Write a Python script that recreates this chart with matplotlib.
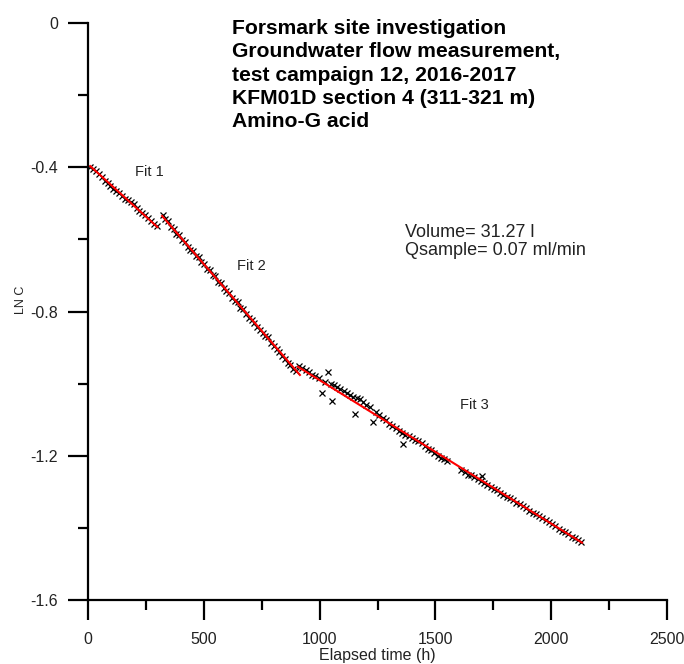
import matplotlib
matplotlib.use("Agg")
import matplotlib.pyplot as plt
from matplotlib.ticker import MultipleLocator

plt.rcParams['font.family'] = ['Liberation Sans', 'DejaVu Sans']
plt.rcParams['axes.unicode_minus'] = False

# measured ln C versus elapsed time (h)
t_fit1 = [10, 22, 35, 48, 60, 72, 85, 97, 110, 122, 135, 147, 160, 172, 185, 197,
          210, 222, 235, 247, 260, 272, 285, 297]
lnc_fit1 = [-0.400, -0.404, -0.411, -0.420, -0.428, -0.437, -0.444, -0.451, -0.460,
            -0.466, -0.472, -0.480, -0.488, -0.492, -0.495, -0.502, -0.512, -0.520,
            -0.527, -0.533, -0.541, -0.550, -0.557, -0.563]

t_fit2 = [322, 334, 346, 358, 370, 382, 394, 406, 418, 430, 442, 454, 466, 478, 490,
          502, 514, 526, 538, 550, 562, 574, 586, 598, 610, 622, 634, 646, 658, 670,
          682, 694, 706, 718, 730, 742, 754, 766, 778, 790, 802, 814, 826, 838, 850,
          862, 874, 886, 898]
lnc_fit2 = [-0.532, -0.543, -0.550, -0.566, -0.570, -0.585, -0.588, -0.603, -0.606,
            -0.621, -0.629, -0.631, -0.645, -0.650, -0.664, -0.668, -0.683, -0.686,
            -0.700, -0.702, -0.718, -0.720, -0.735, -0.744, -0.748, -0.762, -0.772,
            -0.775, -0.790, -0.792, -0.806, -0.818, -0.824, -0.833, -0.842, -0.850,
            -0.861, -0.869, -0.872, -0.888, -0.897, -0.905, -0.912, -0.924, -0.933,
            -0.942, -0.948, -0.960, -0.966]

t_fit3 = [912, 926, 940, 954, 968, 982, 996, 1010, 1024, 1036, 1048, 1054, 1062, 1076,
          1090, 1104, 1118, 1132, 1146, 1153, 1160, 1174, 1188, 1202, 1216, 1231, 1244,
          1258, 1272, 1286, 1300, 1314, 1328, 1342, 1356, 1360, 1370, 1384, 1398, 1412,
          1426, 1440, 1454, 1468, 1482, 1496, 1510, 1524, 1538, 1548, 1612, 1626, 1640,
          1654, 1668, 1682, 1696, 1701, 1710, 1724, 1738, 1752, 1766, 1780, 1794, 1808,
          1822, 1836, 1850, 1864, 1878, 1892, 1906, 1920, 1934, 1948, 1962, 1976, 1990,
          2004, 2018, 2032, 2046, 2060, 2074, 2088, 2102, 2116, 2130]
lnc_fit3 = [-0.952, -0.958, -0.962, -0.968, -0.975, -0.980, -0.985, -1.026, -0.996,
            -0.967, -1.000, -1.048, -1.004, -1.008, -1.014, -1.020, -1.027, -1.032,
            -1.036, -1.084, -1.040, -1.044, -1.050, -1.058, -1.066, -1.106, -1.080,
            -1.088, -1.094, -1.100, -1.112, -1.118, -1.124, -1.132, -1.138, -1.167,
            -1.142, -1.146, -1.150, -1.156, -1.160, -1.164, -1.172, -1.180, -1.184,
            -1.192, -1.200, -1.206, -1.210, -1.214, -1.240, -1.246, -1.252, -1.254,
            -1.258, -1.264, -1.270, -1.256, -1.276, -1.282, -1.286, -1.292, -1.296,
            -1.304, -1.310, -1.314, -1.318, -1.324, -1.330, -1.334, -1.340, -1.346,
            -1.352, -1.358, -1.362, -1.368, -1.374, -1.378, -1.384, -1.390, -1.394,
            -1.402, -1.408, -1.412, -1.418, -1.424, -1.428, -1.434, -1.440]

# straight-line fits: start and end of each segment
fit_t = [[10, 300], [320, 915], [906, 2133]]
fit_lnc = [[-0.397, -0.566], [-0.535, -0.976], [-0.953, -1.441]]
fit_names = ["Fit 1", "Fit 2", "Fit 3"]
fit_label_pos = [(203, -0.413), (643, -0.674), (1606, -1.059)]

title_lines = ["Forsmark site investigation",
               "Groundwater flow measurement,",
               "test campaign 12, 2016-2017",
               "KFM01D section 4 (311-321 m)",
               "Amino-G acid"]

fig = plt.figure(figsize=(6.84, 6.64), dpi=100)
ax = fig.add_axes([88 / 684, 1 - 600 / 664, 579 / 684, 577 / 664])

t_all = t_fit1 + t_fit2 + t_fit3
lnc_all = lnc_fit1 + lnc_fit2 + lnc_fit3
ax.plot(t_all, lnc_all, linestyle='none', marker='x', color='black',
        markersize=5, markeredgewidth=0.9, zorder=2)

for ft, fy in zip(fit_t, fit_lnc):
    ax.plot(ft, fy, color='red', linewidth=1.5, zorder=3)

for name, (px, py) in zip(fit_names, fit_label_pos):
    ax.text(px, py, name, fontsize=10.5, color='#222222', va='center', ha='left')

ax.text(1369, -0.557, "Volume= 31.27 l\nQsample= 0.07 ml/min", fontsize=13,
        color='#222222', va='top', ha='left', linespacing=1.08)

fig.text(232 / 684, 1 - 19 / 664, "\n".join(title_lines), fontsize=15.2,
         fontweight='bold', va='top', ha='left', linespacing=1.29)

ax.set_xlim(0, 2500)
ax.set_ylim(-1.6, 0)
ax.xaxis.set_major_locator(MultipleLocator(500))
ax.xaxis.set_minor_locator(MultipleLocator(250))
ax.yaxis.set_major_locator(MultipleLocator(0.4))
ax.yaxis.set_minor_locator(MultipleLocator(0.2))
ax.set_yticks([0, -0.4, -0.8, -1.2, -1.6])
ax.set_yticklabels(["0", "-0.4", "-0.8", "-1.2", "-1.6"])

for side in ['top', 'right']:
    ax.spines[side].set_visible(False)
for side in ['left', 'bottom']:
    ax.spines[side].set_linewidth(1.6)

ax.tick_params(which='major', length=14.5, width=1.6, labelsize=11.5, pad=8.5,
               labelcolor='#222222')
ax.tick_params(axis='y', which='major', pad=7)
ax.tick_params(which='minor', length=7, width=1.6)

ax.set_xlabel("Elapsed time (h)", fontsize=11.5, color='#222222')
ax.xaxis.set_label_coords(0.5, -0.083)
ax.set_ylabel("LN C", fontsize=9, color='#222222')
ax.yaxis.set_label_coords(-0.106, 0.52)

fig.savefig("out.png", dpi=100)
